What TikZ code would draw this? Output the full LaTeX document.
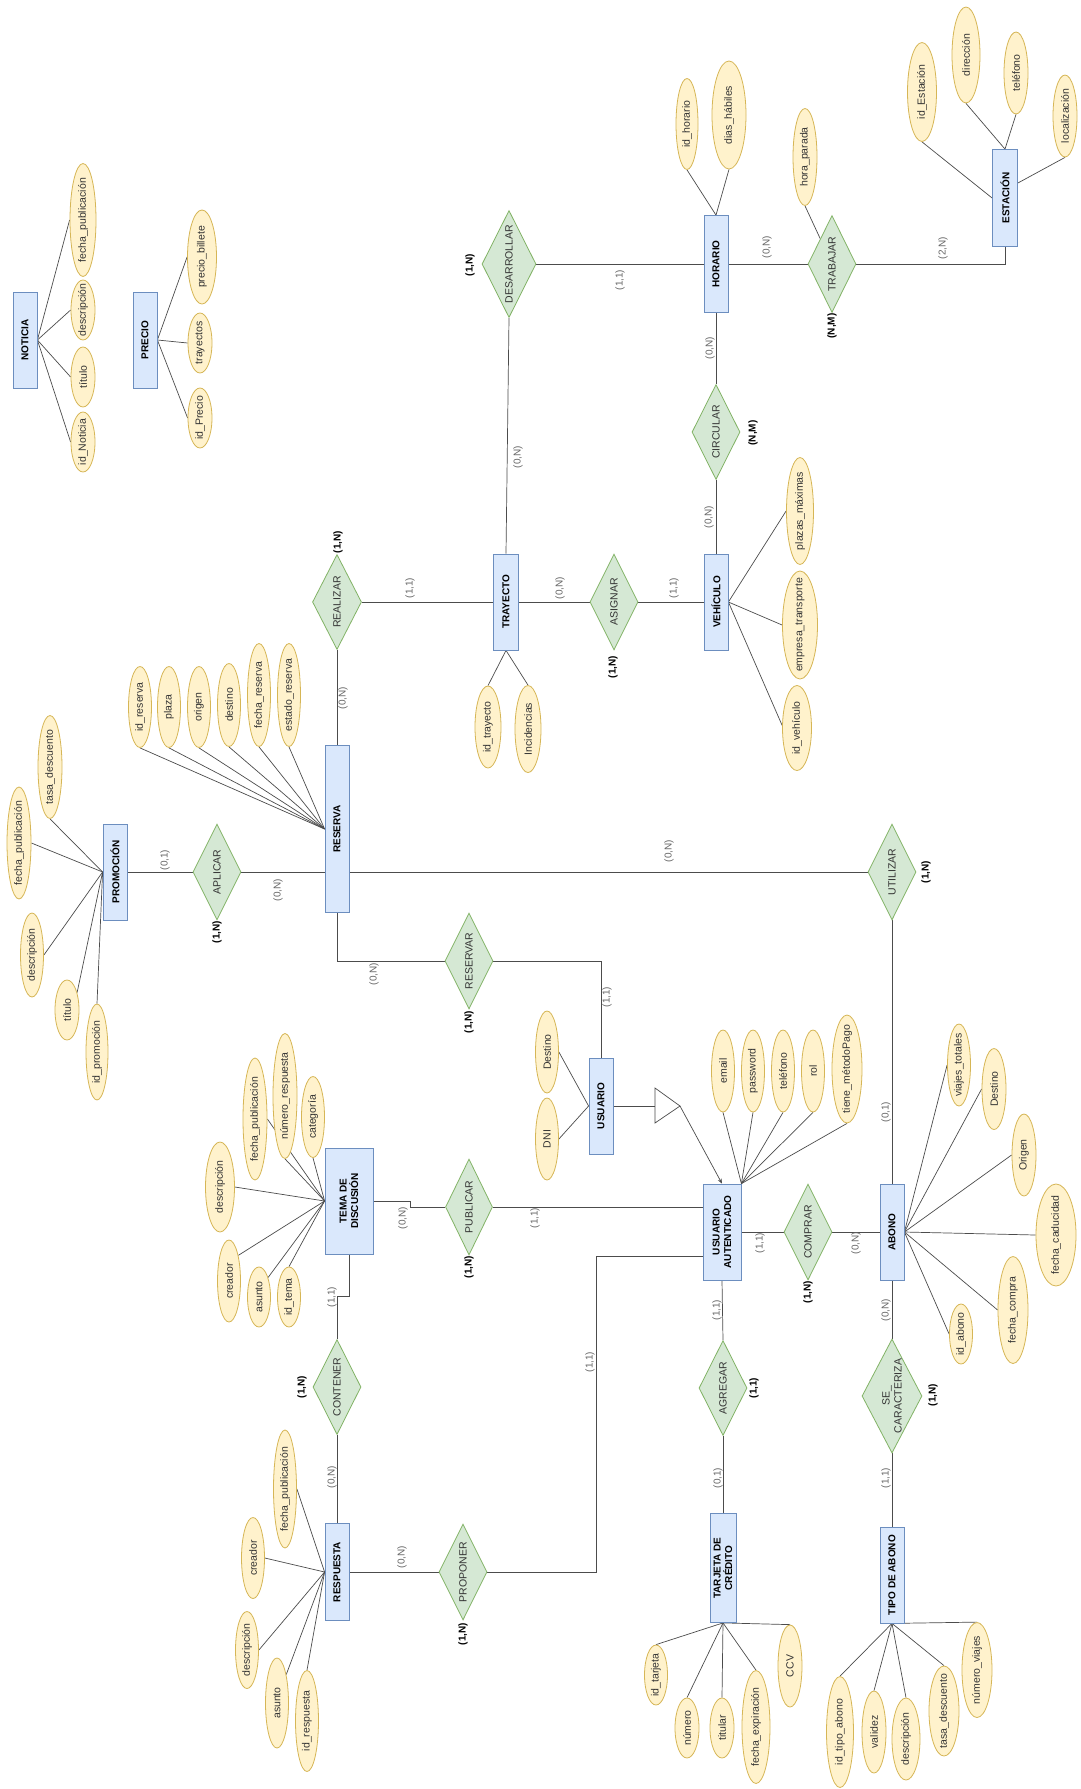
\documentclass[tikz,border=0pt]{standalone}
\usepackage{fontspec}
\setmainfont{Liberation Sans}
\usetikzlibrary{shapes.geometric,calc,arrows.meta}
\definecolor{entF}{HTML}{DAE8FC}\definecolor{entS}{HTML}{6C8EBF}
\definecolor{relF}{HTML}{D5E8D4}\definecolor{relS}{HTML}{82B366}
\definecolor{atF}{HTML}{FFF2CC}\definecolor{atS}{HTML}{D6B656}
\pgfdeclarelayer{back}\pgfdeclarelayer{wires}\pgfsetlayers{back,wires,main}
\tikzset{
  ent/.style={draw=entS, fill=entF, rectangle, inner sep=0pt, line width=0.8pt},
  rel/.style={draw=relS, fill=relF, diamond, inner sep=0pt, line width=0.8pt},
  attr/.style={draw=atS, fill=atF, ellipse, inner sep=0pt, line width=0.8pt},
  etxt/.style={rotate=90, font=\bfseries\fontsize{10}{11.5}\selectfont, align=center, inner sep=0pt},
  rtxt/.style={rotate=90, font=\fontsize{10.5}{12}\selectfont, text=black!80, align=center, inner sep=0pt},
  atxt/.style={rotate=90, font=\fontsize{10.5}{12}\selectfont, text=black!80, inner sep=0pt},
  card/.style={rotate=90, font=\fontsize{10}{12}\selectfont, text=black!60, inner sep=0pt},
  bcard/.style={rotate=90, font=\bfseries\fontsize{10}{12}\selectfont, text=black, inner sep=0pt},
  wire/.style={draw=black!70, line width=0.7pt}
}
\newcommand\mkent[6]{\node[ent, minimum width=#4, minimum height=#5, label={[etxt]center:#6}] (#1) at (#2,#3) {};}
\newcommand\mkrel[6]{\node[rel, minimum width=#4, minimum height=#5, label={[rtxt]center:#6}] (#1) at (#2,#3) {};}
\newcommand\mkattr[6]{\node[attr, minimum width=#4, minimum height=#5, label={[atxt]center:#6}] (#1) at (#2,#3) {};}
\begin{document}
\begin{tikzpicture}[x=1pt,y=-1pt]
\useasboundingbox (0,0) rectangle (1081,1789);
\begin{pgfonlayer}{back}\fill[white] (0,0) rectangle (1081,1789);\end{pgfonlayer}
% entities
\mkent{NOT}{25}{340}{24}{96}{NOTICIA}
\mkent{PRE}{145}{340}{24}{96}{PRECIO}
\mkent{HOR}{716}{264}{24}{97}{HORARIO}
\mkent{EST}{1005}{198}{25}{97}{ESTACIÓN}
\mkent{TRA}{506}{602}{25}{96}{TRAYECTO}
\mkent{VEH}{716}{602}{24}{96}{VEHÍCULO}
\mkent{RES}{337}{829}{24}{167}{RESERVA}
\mkent{PRO}{115}{872}{24}{96}{PROMOCIÓN}
\mkent{USU}{601}{1106}{24}{96}{USUARIO}
\mkent{UA}{722}{1232}{38}{96}{USUARIO\\AUTENTICADO}
\mkent{TEM}{349}{1201}{48}{106}{TEMA DE\\DISCUSIÓN}
\mkent{RSP}{337}{1572}{24}{97}{RESPUESTA}
\mkent{TAR}{723}{1568}{26}{109}{TARJETA DE\\CRÉDITO}
\mkent{ABO}{892}{1232}{24}{96}{ABONO}
\mkent{TIP}{892}{1575}{24}{96}{TIPO DE ABONO}
% relationships
\mkrel{DES}{509}{264}{54}{107}{DESARROLLAR}
\mkrel{TRB}{832}{264}{48}{97}{TRABAJAR}
\mkrel{CIR}{716}{432}{48}{95}{CIRCULAR}
\mkrel{REA}{337}{602}{49}{95}{REALIZAR}
\mkrel{ASI}{614}{602}{48}{96}{ASIGNAR}
\mkrel{APL}{217}{872}{48}{96}{APLICAR}
\mkrel{UTI}{892}{872}{48}{96}{UTILIZAR}
\mkrel{RSV}{469}{961}{48}{96}{RESERVAR}
\mkrel{PUB}{469}{1207}{47}{96}{PUBLICAR}
\mkrel{COM}{808}{1232}{48}{96}{COMPRAR}
\mkrel{CON}{337}{1387}{48}{95}{CONTENER}
\mkrel{PRP}{463}{1572}{48}{96}{PROPONER}
\mkrel{AGR}{723}{1388}{48}{95}{AGREGAR}
\mkrel{SEC}{892}{1396}{60}{114}{SE\_\\CARACTERIZA}
% attributes
\mkattr{n1}{83}{220}{26}{113}{fecha\_publicación}
\mkattr{n2}{83}{310}{24}{60}{descripción}
\mkattr{n3}{83}{377}{24}{60}{título}
\mkattr{n4}{83}{442}{24}{60}{id\_Noticia}
\mkattr{p1}{202}{257}{29}{94}{precio\_billete}
\mkattr{p2}{200}{343}{24}{60}{trayectos}
\mkattr{p3}{200}{418}{24}{60}{id\_Precio}
\mkattr{h1}{687}{124}{22}{91}{id\_horario}
\mkattr{h2}{729}{115}{34}{108}{dias\_hábiles}
\mkattr{tb1}{805}{157}{24}{97}{hora\_parada}
\mkattr{e1}{922}{92}{29}{99}{id\_Estación}
\mkattr{e2}{966}{55}{28}{96}{dirección}
\mkattr{e3}{1016}{73}{24}{82}{teléfono}
\mkattr{e4}{1065}{116}{24}{82}{localización}
\mkattr{t1}{488}{727}{26}{82}{id\_trayecto}
\mkattr{t2}{528}{729}{26}{87}{Incidencias}
\mkattr{v1}{800}{511}{27}{107}{plazas\_máximas}
\mkattr{v2}{800}{625}{35}{108}{empresa\_transporte}
\mkattr{v3}{797}{728}{29}{85}{id\_vehículo}
\mkattr{r1}{140}{707}{23}{81}{id\_reserva}
\mkattr{r2}{169}{707}{23}{81}{plaza}
\mkattr{r3}{199}{707}{23}{81}{origen}
\mkattr{r4}{229}{705}{23}{83}{destino}
\mkattr{r5}{259}{695}{23}{103}{fecha\_reserva}
\mkattr{r6}{289}{695}{23}{103}{estado\_reserva}
\mkattr{pr1}{50}{767}{24}{103}{tasa\_descuento}
\mkattr{pr2}{19}{843}{24}{112}{fecha\_publicación}
\mkattr{pr3}{32}{955}{23}{84}{descripción}
\mkattr{pr4}{67}{1010}{24}{60}{título}
\mkattr{pr5}{97}{1052}{22}{96}{id\_promoción}
\mkattr{u1}{547}{1052}{23}{82}{Destino}
\mkattr{u2}{547}{1139}{23}{82}{DNI}
\mkattr{ua1}{723}{1071}{23}{82}{email}
\mkattr{ua2}{753}{1071}{23}{82}{password}
\mkattr{ua3}{783}{1071}{23}{82}{teléfono}
\mkattr{ua4}{813}{1071}{23}{82}{rol}
\mkattr{ua5}{847}{1069}{30}{108}{tiene\_métodoPago}
\mkattr{td1}{255}{1119}{24}{122}{fecha\_publicación}
\mkattr{td2}{285}{1096}{24}{125}{número\_respuesta}
\mkattr{td3}{313}{1117}{23}{81}{categoría}
\mkattr{td4}{220}{1187}{29}{90}{descripción}
\mkattr{td5}{229}{1281}{23}{82}{creador}
\mkattr{td6}{259}{1297}{23}{60}{asunto}
\mkattr{td7}{289}{1297}{23}{60}{id\_tema}
\mkattr{rs1}{285}{1489}{23}{118}{fecha\_publicación}
\mkattr{rs2}{253}{1558}{23}{81}{creador}
\mkattr{rs3}{247}{1650}{23}{77}{descripción}
\mkattr{rs4}{277}{1703}{23}{90}{asunto}
\mkattr{rs5}{307}{1721}{23}{101}{id\_respuesta}
\mkattr{tj1}{656}{1675}{23}{60}{id\_tarjeta}
\mkattr{tj2}{687}{1728}{24}{60}{número}
\mkattr{tj3}{722}{1728}{24}{60}{titular}
\mkattr{tj4}{756}{1727}{28}{113}{fecha\_expiración}
\mkattr{tj5}{790}{1666}{24}{82}{CCV}
\mkattr{ta1}{840}{1732}{27}{111}{id\_tipo\_abono}
\mkattr{ta2}{874}{1732}{24}{82}{validez}
\mkattr{ta3}{906}{1739}{28}{82}{descripción}
\mkattr{ta4}{944}{1711}{30}{90}{tasa\_descuento}
\mkattr{ta5}{977}{1670}{30}{95}{número\_viajes}
\mkattr{ab1}{959}{1065}{23}{82}{viajes\_totales}
\mkattr{ab2}{994}{1089}{24}{81}{Destino}
\mkattr{ab3}{1024}{1155}{24}{82}{Origen}
\mkattr{ab4}{1056}{1235}{40}{102}{fecha\_caducidad}
\mkattr{ab5}{1013}{1310}{30}{107}{fecha\_compra}
\mkattr{ab6}{961}{1334}{23}{60}{id\_abono}
% ISA
\coordinate (isaL) at (655,1106);
\coordinate (isaT) at (680,1106);
\coordinate (pj) at (596,1256);
\draw[wire, fill=white] (655,1088) -- (isaT) -- (655,1123) -- cycle;
% wires
\begin{pgfonlayer}{wires}
\foreach \a in {n1,n2,n3,n4} \draw[wire] (\a.west) -- (NOT.east);
\foreach \a in {p1,p2,p3} \draw[wire] (\a.west) -- (PRE.east);
\foreach \a in {h1,h2} \draw[wire] (\a.south) -- (HOR.north);
\draw[wire] (tb1.south) -- (TRB);
\draw[wire] (e1.south) -- (EST.west);
\draw[wire] (e2.south) -- (EST.north);
\draw[wire] (e3.south) -- (EST.north);
\draw[wire] (e4.south) -- ($(EST.east)+(0,-15)$);
\foreach \a in {t1,t2} \draw[wire] (\a.north) -- (TRA.south);
\draw[wire] (v1.west) -- (VEH.east);
\draw[wire] (v2.west) -- (VEH.east);
\draw[wire] (v3.170) -- (VEH.east);
\foreach \a in {r1,r2,r3,r4,r5,r6} \draw[wire] (\a.south) -- (RES.west);
\draw[wire] (pr1.south) -- (PRO.west);
\draw[wire] (pr2.east) -- (PRO.west);
\draw[wire] (pr3.east) -- (PRO.west);
\draw[wire] (pr4.60) -- (PRO.west);
\draw[wire] (pr5.north) -- (PRO.west);
\draw[wire] (u1.east) -- (USU.west);
\draw[wire] (u2.east) -- (USU.west);
\foreach \a in {ua1,ua2,ua3,ua4,ua5} \draw[wire] (\a.south) -- (UA.north east);
\draw[wire] (td1.east) -- (TEM.west);
\draw[wire] (td2.south) -- (TEM.west);
\draw[wire] (td3.south) -- (TEM.west);
\draw[wire] (td4.east) -- (TEM.west);
\draw[wire] (td5.70) -- (TEM.west);
\draw[wire] (td6.65) -- (TEM.west);
\draw[wire] (td7.north) -- (TEM.west);
\draw[wire] (rs1.east) -- (RSP.west);
\draw[wire] (rs2.east) -- (RSP.west);
\draw[wire] (rs3.east) -- (RSP.west);
\draw[wire] (rs4.72) -- (RSP.west);
\draw[wire] (rs5.north) -- (RSP.west);
\foreach \a in {tj1,tj2,tj3,tj4,tj5} \draw[wire] (\a.north) -- (TAR.south);
\foreach \a in {ta1,ta2,ta3,ta4,ta5} \draw[wire] (\a.north) -- (TIP.south);
\foreach \a in {ab1,ab2,ab3,ab4,ab5,ab6} \draw[wire] (\a.west) -- (ABO.east);
% relationship connectors
\draw[wire] (DES.east) -- (HOR.west);
\draw[wire] (DES.south) -- (TRA.north);
\draw[wire] (HOR.east) -- (TRB.west);
\draw[wire] (TRB.east) -| (EST.south);
\draw[wire] (HOR.south) -- (CIR.north);
\draw[wire] (CIR.south) -- (VEH.north);
\draw[wire] (REA.east) -- (TRA.west);
\draw[wire] (REA.south) -- (RES.north);
\draw[wire] (TRA.east) -- (ASI.west);
\draw[wire] (ASI.east) -- (VEH.west);
\draw[wire] (PRO.east) -- (APL.west);
\draw[wire] (APL.east) -- (APL.east -| RES.west);
\draw[wire] (UTI.west -| RES.east) -- (UTI.west);
\draw[wire] (UTI.south) -- (ABO.north);
\draw[wire] (RES.south) |- (RSV.west);
\draw[wire] (RSV.east) -| (USU.north);
\draw[wire] (USU.east) -- (isaL);
\draw[wire, -{Stealth[length=5pt,width=4pt]}] (isaT) -- (UA.north);
\draw[wire] (TEM.east) -- ++(37,0) |- (PUB.west);
\draw[wire] (PUB.east) -- (PUB.east -| UA.west);
\draw[wire] (UA.east) -- (COM.west);
\draw[wire] (COM.east) -- (ABO.west);
\draw[wire] (UA.south) -- (AGR.north);
\draw[wire] (AGR.south) -- (TAR.north);
\draw[wire] (ABO.south) -- (SEC.north);
\draw[wire] (SEC.south) -- (TIP.north);
\draw[wire] (TEM.south) -- ++(0,42) -| (CON.north);
\draw[wire] (CON.south) -- (RSP.north);
\draw[wire] (RSP.east) -- (PRP.west);
\draw[wire] (PRP.east) -| (pj) -- (pj -| UA.west);
\end{pgfonlayer}
% cardinalities
\node[card] (k1) at (620,280) {(1,1)};
\node[card] (k2) at (767,247) {(0,N)};
\node[card] (k3) at (943,248) {(2,N)};
\node[card] (k4) at (710,348) {(0,N)};
\node[card] (k5) at (709,517) {(0,N)};
\node[card] (k6) at (518,457) {(0,N)};
\node[card] (k7) at (410,588) {(1,1)};
\node[card] (k8) at (560,588) {(0,N)};
\node[card] (k9) at (674,588) {(1,1)};
\node[card] (k10) at (343,698) {(0,N)};
\node[card] (k11) at (165,860) {(0,1)};
\node[card] (k12) at (278,890) {(0,N)};
\node[card] (k13) at (669,851) {(0,N)};
\node[card] (k14) at (886,1112) {(0,1)};
\node[card] (k15) at (374,974) {(0,N)};
\node[card] (k16) at (607,997) {(1,1)};
\node[card] (k17) at (403,1218) {(0,N)};
\node[card] (k18) at (535,1218) {(1,1)};
\node[card] (k19) at (760,1243) {(1,1)};
\node[card] (k20) at (856,1243) {(0,N)};
\node[card] (k21) at (717,1310) {(1,1)};
\node[card] (k22) at (718,1478) {(0,1)};
\node[card] (k23) at (886,1310) {(0,N)};
\node[card] (k24) at (886,1478) {(1,1)};
\node[card] (k25) at (332,1297) {(1,1)};
\node[card] (k26) at (332,1477) {(0,N)};
\node[card] (k27) at (402,1557) {(0,N)};
\node[card] (k28) at (590,1362) {(1,1)};
% bold cardinalities
\node[bcard] (b1) at (470,265) {(1,N)};
\node[bcard] (b2) at (832,326) {(N,M)};
\node[bcard] (b3) at (753,433) {(N,M)};
\node[bcard] (b4) at (338,542) {(1,N)};
\node[bcard] (b5) at (613,667) {(1,N)};
\node[bcard] (b6) at (217,932) {(1,N)};
\node[bcard] (b7) at (926,872) {(1,N)};
\node[bcard] (b8) at (469,1022) {(1,N)};
\node[bcard] (b9) at (469,1267) {(1,N)};
\node[bcard] (b10) at (808,1292) {(1,N)};
\node[bcard] (b11) at (754,1388) {(1,1)};
\node[bcard] (b12) at (933,1395) {(1,N)};
\node[bcard] (b13) at (302,1387) {(1,N)};
\node[bcard] (b14) at (463,1634) {(1,N)};
\end{tikzpicture}
\end{document}
